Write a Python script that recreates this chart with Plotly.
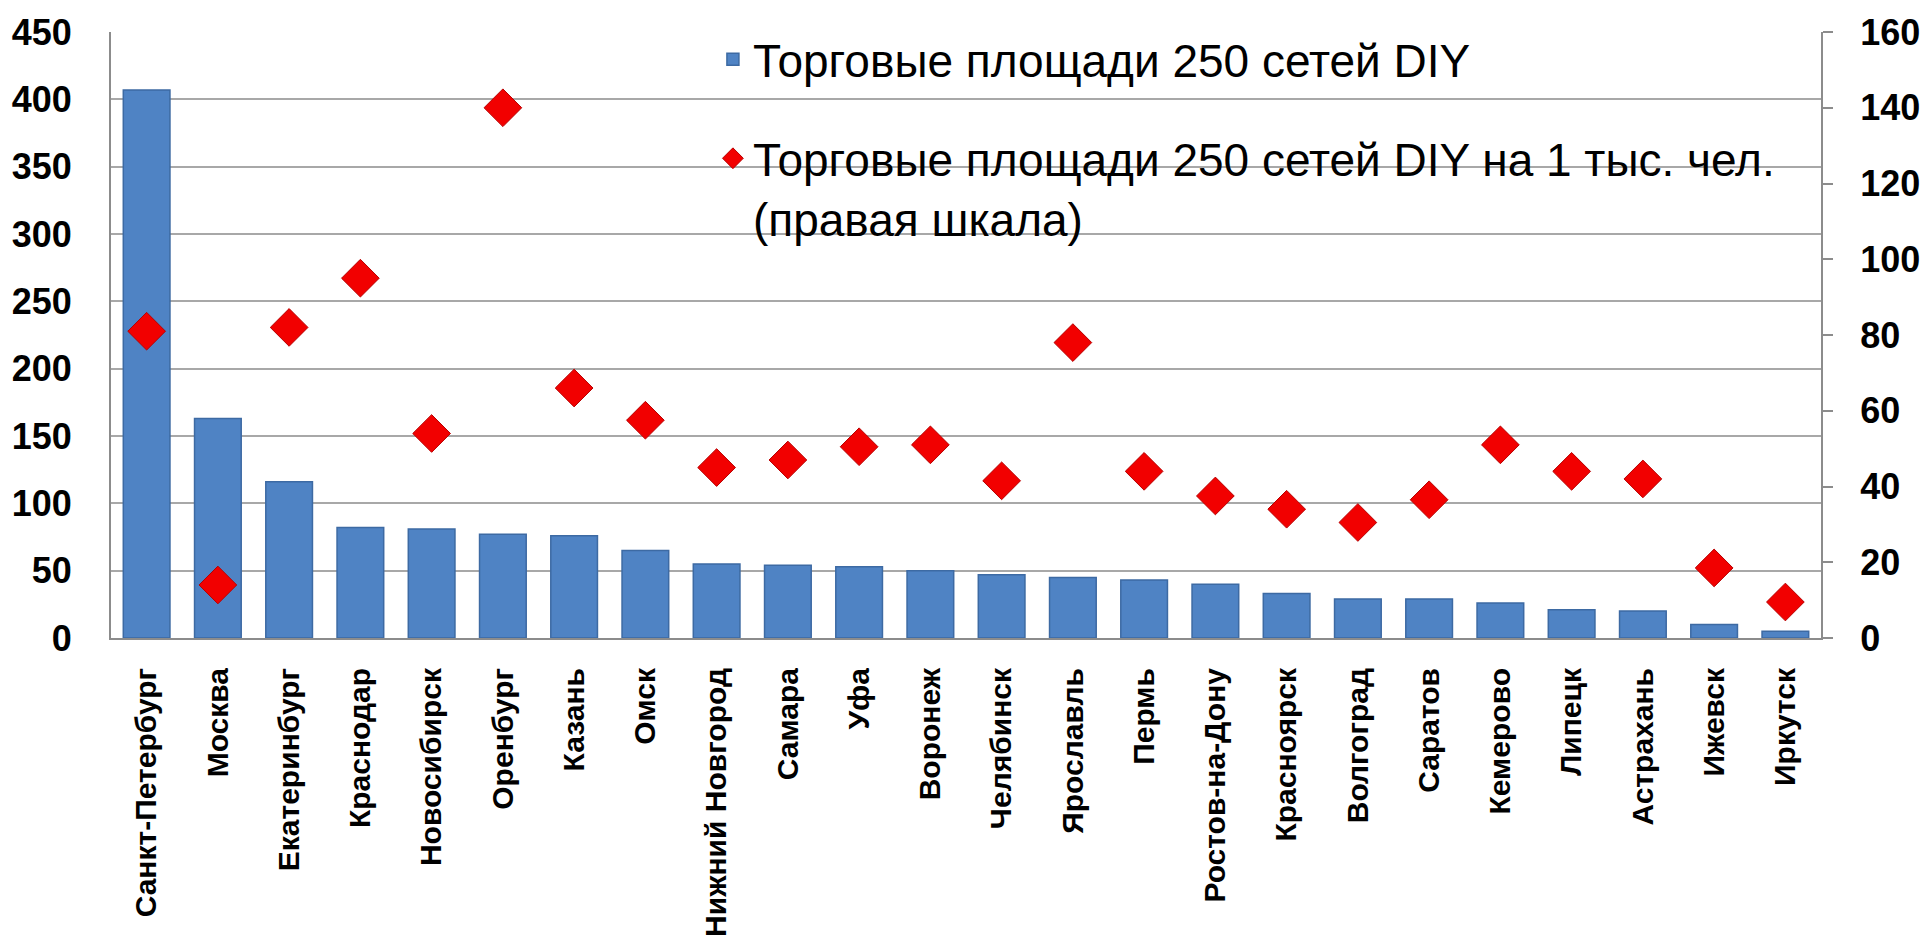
import plotly.graph_objects as go

cities = [
    "Санкт-Петербург", "Москва", "Екатеринбург", "Краснодар", "Новосибирск",
    "Оренбург", "Казань", "Омск", "Нижний Новгород", "Самара", "Уфа", "Воронеж",
    "Челябинск", "Ярославль", "Пермь", "Ростов-на-Дону", "Красноярск", "Волгоград",
    "Саратов", "Кемерово", "Липецк", "Астрахань", "Ижевск", "Иркутск",
]
# торговые площади, левая шкала
area = [407, 163, 116, 82, 81, 77, 76, 65, 55, 54, 53, 50,
        47, 45, 43, 40, 33, 29, 29, 26, 21, 20, 10, 5]
# на 1 тыс. чел., правая шкала
area_per_1000 = [81, 14, 82, 95, 54, 140, 66, 57.5, 45, 47, 50.5, 51,
                 41.5, 78, 44, 37.5, 34, 30.5, 36.5, 51, 44, 42, 18.5, 9.5]

left_ticks = list(range(0, 451, 50))
right_ticks = list(range(0, 161, 20))

FONT = "Liberation Sans, Arial, sans-serif"
GRID = "#a8a8a8"
AXIS = "#8c8c8c"

fig = go.Figure()
fig.add_trace(
    go.Bar(
        x=cities,
        y=area,
        name="Торговые площади 250 сетей DIY",
        marker={"color": "#4f83c4", "line": {"color": "#3d6aa3", "width": 1.5}},
        legend="legend",
    )
)
fig.add_trace(
    go.Scatter(
        x=cities,
        y=area_per_1000,
        yaxis="y2",
        mode="markers",
        name="Торговые площади 250 сетей DIY на 1 тыс. чел.<br>(правая шкала)",
        marker={"symbol": "diamond", "size": 29, "color": "#f20000",
                "line": {"color": "#b80000", "width": 1}},
        legend="legend2",
    )
)

tick_font = {"family": FONT, "size": 36, "color": "black", "weight": "bold"}
legend_common = dict(
    xanchor="left",
    yanchor="middle",
    bgcolor="rgba(0,0,0,0)",
    borderwidth=0,
    font={"family": FONT, "size": 46, "color": "black"},
    itemsizing="trace",
    valign="top",
)

fig.update_layout(
    width=1932,
    height=949,
    margin={"l": 109, "r": 99, "t": 29, "b": 305},
    paper_bgcolor="white",
    plot_bgcolor="white",
    bargap=0.345,
    showlegend=True,
    legend=dict(x=0.352, y=0.955, **legend_common),
    legend2=dict(x=0.352, y=0.742, **legend_common),
    xaxis=dict(
        range=[-0.5, len(cities) - 0.5],
        tickangle=-90,
        tickfont={"family": FONT, "size": 30, "color": "black", "weight": "bold"},
        showline=True,
        linecolor=AXIS,
        linewidth=2,
        ticks="",
        ticklabelstandoff=16,
    ),
    yaxis=dict(
        range=[0, 450],
        tickvals=left_ticks,
        tickfont=tick_font,
        showgrid=True,
        gridcolor=GRID,
        gridwidth=1.5,
        showline=True,
        linecolor=AXIS,
        linewidth=2,
        zeroline=False,
        ticklabelstandoff=30,
    ),
    yaxis2=dict(
        range=[0, 160],
        tickvals=right_ticks,
        overlaying="y",
        side="right",
        tickfont=tick_font,
        showgrid=False,
        showline=True,
        linecolor=AXIS,
        linewidth=2,
        ticks="outside",
        ticklen=10,
        tickwidth=2,
        tickcolor=AXIS,
        zeroline=False,
        ticklabelstandoff=20,
    ),
)

fig.write_html(
    "out.html",
    config={"displayModeBar": False},
    post_script="document.body.style.margin='0';",
)
